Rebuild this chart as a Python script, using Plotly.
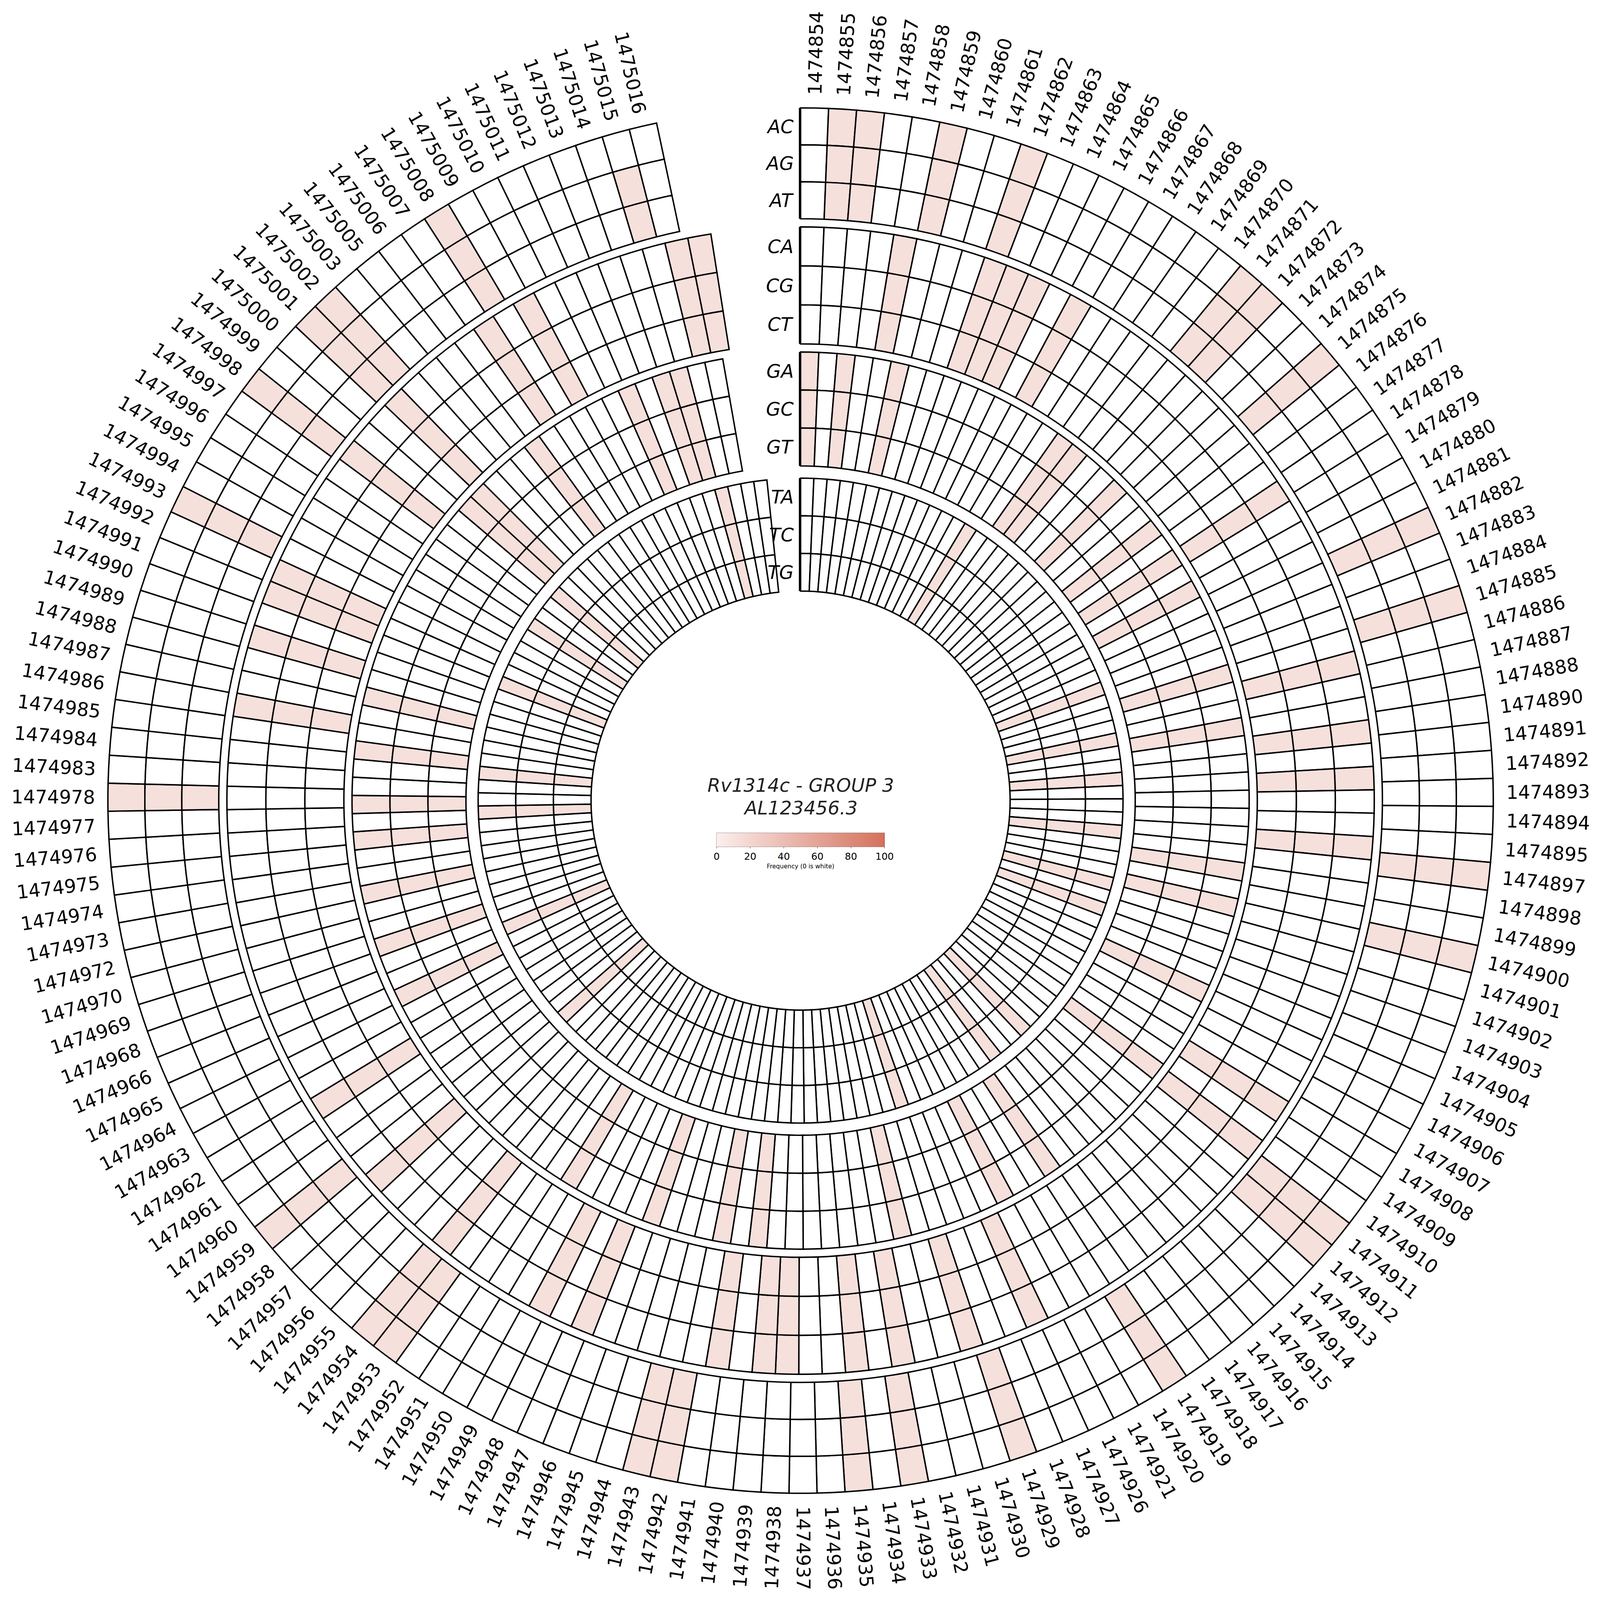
import plotly.graph_objects as go
import math

# genomic positions around the circle (clockwise from the top)
positions = (list(range(1474854, 1474889)) + list(range(1474890, 1474896)) +
             list(range(1474897, 1474922)) + list(range(1474926, 1474967)) +
             [1474968, 1474969, 1474970] + list(range(1474972, 1474979)) +
             list(range(1474983, 1475004)) + list(range(1475005, 1475017)))

mutations = ["AC", "AG", "AT", "CA", "CG", "CT", "GA", "GC", "GT", "TA", "TC", "TG"]

# positions with a non-zero frequency (all about 12 %), per mutation
a_hits = [1474855, 1474856, 1474859, 1474862, 1474871, 1474872, 1474875, 1474882, 1474885,
          1474897, 1474900, 1474911, 1474912, 1474919, 1474929, 1474933, 1474935, 1474942,
          1474943, 1474953, 1474954, 1474959, 1474978, 1474993, 1474998, 1475001, 1475002,
          1475008]
c_hits = [1474858, 1474862, 1474863, 1474864, 1474866, 1474878, 1474886, 1474890, 1474892,
          1474895, 1474908, 1474910, 1474926, 1474929, 1474932, 1474934, 1474937, 1474938,
          1474940, 1474946, 1474948, 1474953, 1474957, 1474961, 1474985, 1474988, 1474990,
          1474991, 1474997, 1475000, 1475006, 1475008, 1475015, 1475016]
g_hits = [1474854, 1474856, 1474859, 1474869, 1474870, 1474873, 1474876, 1474878, 1474880,
          1474885, 1474888, 1474898, 1474900, 1474905, 1474910, 1474918, 1474921, 1474931,
          1474939, 1474941, 1474945, 1474950, 1474964, 1474968, 1474972, 1474975, 1474977,
          1474984, 1474987, 1474999, 1475000, 1475005, 1475011, 1475013, 1475014]
t_hits = [1474867, 1474883, 1474887, 1474891, 1474895, 1474900, 1474902, 1474913, 1474916,
          1474928, 1474956, 1474964, 1474975, 1474978, 1474989, 1474994, 1474997, 1475013]
hits = {"AC": a_hits, "AG": a_hits + [1475015], "AT": a_hits + [1475015],
        "CA": c_hits, "CG": c_hits, "CT": c_hits,
        "GA": g_hits, "GC": g_hits, "GT": g_hits,
        "TA": t_hits, "TC": t_hits, "TG": t_hits}
hit_value = 12

S = 4083
k = S / 1568  # reference preview -> pixels
R = 784       # radial axis max (preview units)

# ring groups: (outer radius, inner radius, angular span)
groups = [(681, 572, 348), (564, 449, 351), (441, 329, 350), (317, 206, 354)]
cscale = [[0, "#ffffff"], [0.001, "#fbefed"], [1, "#d4705b"]]

fig = go.Figure()
n = len(positions)
for gi, (r_out, r_in, span) in enumerate(groups):
    w = span / n
    th = (r_out - r_in) / 3
    for j in range(3):
        m = mutations[gi * 3 + j]
        vals = [hit_value if p in hits[m] else 0 for p in positions]
        base = r_out - (j + 1) * th
        fig.add_trace(go.Barpolar(
            theta=[(i + 0.5) * w for i in range(n)], r=[th] * n, base=[base] * n,
            width=[w] * n,
            marker=dict(color=vals, colorscale=cscale, cmin=0, cmax=100,
                        line=dict(color="black", width=1.4 * k),
                        showscale=(gi == 0 and j == 0),
                        colorbar=dict(orientation="h", x=0.5, xanchor="center",
                                      y=1 - 812 / 1568, yanchor="top",
                                      len=173 / 1568, thickness=14 * k,
                                      outlinewidth=0.5, tickvals=[0, 20, 40, 60, 80, 100],
                                      ticks="outside", ticklen=4,
                                      tickfont=dict(size=9.5 * k, color="black"),
                                      title=dict(text="Frequency (0 is white)", side="bottom",
                                                 font=dict(size=6 * k, color="black")))),
            customdata=positions, name=m,
            hovertemplate=m + " %{customdata}: %{marker.color}<extra></extra>",
            showlegend=False))

# outer position labels, rotated radially
span0 = groups[0][2]
for i, p in enumerate(positions):
    ang = (i + 0.5) * span0 / n
    rr = 735
    x = 0.5 + rr / R * 0.5 * math.sin(math.radians(ang))
    y = 0.5 + rr / R * 0.5 * math.cos(math.radians(ang))
    ta = ang - 90 if ang < 180 else ang - 270
    fig.add_annotation(x=x, y=y, xref="paper", yref="paper", text=str(p), showarrow=False,
                       textangle=ta, xanchor="center", yanchor="middle",
                       font=dict(size=18.5 * k, color="black"))

# mutation labels in the gap and group bars
for gi, (r_out, r_in, span) in enumerate(groups):
    th = (r_out - r_in) / 3
    for j in range(3):
        rc = r_out - (j + 0.5) * th
        fig.add_annotation(x=0.5 - 6 / 1568, y=0.5 + rc / R * 0.5, xref="paper", yref="paper",
                           text="<i>" + mutations[gi * 3 + j] + "</i>", showarrow=False,
                           xanchor="right", yanchor="middle",
                           font=dict(size=18.5 * k, color="black"))
    fig.add_shape(type="line", xref="paper", yref="paper", x0=0.5 - 1 / 1568, x1=0.5 - 1 / 1568,
                  y0=0.5 + r_in / R * 0.5, y1=0.5 + r_out / R * 0.5,
                  line=dict(color="black", width=1.4 * k))

for txt, yy in [("Rv1314c - GROUP 3", 769), ("AL123456.3", 791)]:
    fig.add_annotation(x=0.5, y=1 - yy / 1568, xref="paper", yref="paper",
                       text="<i>" + txt + "</i>", showarrow=False,
                       yanchor="middle", font=dict(size=18.5 * k, color="#222222"))

fig.update_layout(
    width=S, height=S, margin=dict(l=0, r=0, t=0, b=0),
    paper_bgcolor="white", plot_bgcolor="white",
    font=dict(family="DejaVu Sans"),
    polar=dict(domain=dict(x=[0, 1], y=[0, 1]), bgcolor="white", barmode="overlay",
               radialaxis=dict(range=[0, R], visible=False, showgrid=False),
               angularaxis=dict(rotation=90, direction="clockwise", visible=False,
                                showgrid=False)),
)

fig.write_html("out.html")
